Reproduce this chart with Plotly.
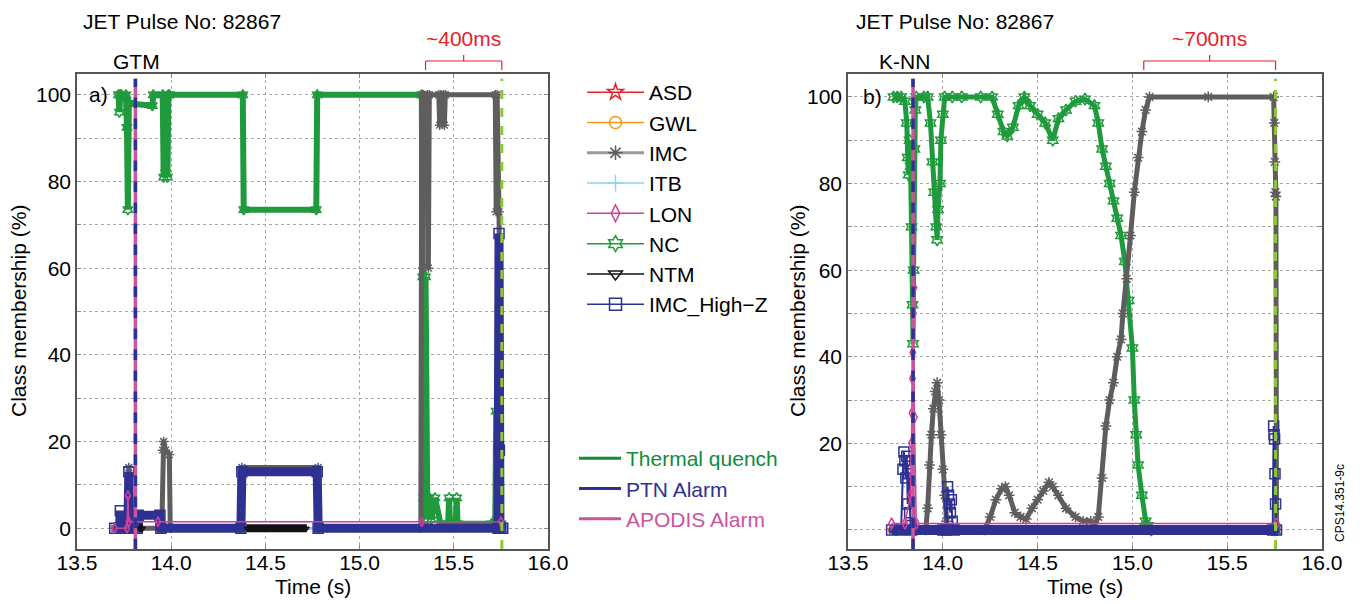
import plotly.graph_objects as go

FONT = "Liberation Sans, Arial, sans-serif"
W, H = 1363, 604
FS = 21

# ---------------- data: panel a) GTM ----------------
gtm_nc_t = [13.72, 13.725, 13.73, 13.735, 13.76, 13.765, 13.77, 13.775, 13.78, 13.90, 13.905, 13.955,
            13.96, 13.97, 13.98, 13.985, 13.99, 14.38, 14.385, 14.77, 14.775, 15.33, 15.335, 15.34,
            15.345, 15.35, 15.355, 15.36, 15.37, 15.38, 15.40, 15.43, 15.47, 15.475, 15.48, 15.51,
            15.515, 15.52, 15.70, 15.72, 15.725, 15.73, 15.74, 15.75]
gtm_nc_v = [100, 96, 100, 100, 100, 92.5, 73.5, 98, 98, 97.5, 100, 100,
            81, 82, 81, 100, 100, 100, 73.5, 73.5, 100, 100, 58, 7,
            2, 58, 7, 2, 7, 2, 7, 1, 1, 7, 1, 1,
            7, 1, 1, 1, 27, 2, 1, 1]

gtm_imc_t = [13.70, 13.77, 13.775, 13.78, 13.95, 13.955, 13.96, 13.97, 13.99, 13.995, 14.0, 14.37,
             14.375, 14.78, 14.785, 15.325, 15.33, 15.335, 15.34, 15.36, 15.365, 15.37, 15.42,
             15.425, 15.43, 15.445, 15.45, 15.455, 15.72, 15.725, 15.73, 15.74, 15.75]
gtm_imc_v = [0, 0, 14, 0, 0, 18, 20, 18, 17, 0, 0, 0,
             14, 14, 0, 0, 100, 60, 100, 100, 60, 100, 100,
             93, 100, 100, 93, 100, 100, 73, 100, 73, 0]

gtm_highz_t = [13.70, 13.725, 13.73, 13.735, 13.77, 13.775, 13.78, 13.82, 13.825, 13.94, 13.945,
               14.37, 14.375, 14.775, 14.78, 15.735, 15.74, 15.742, 15.745, 15.75, 15.76]
gtm_highz_v = [0, 0, 4, 0, 0, 13, 0, 0, 3, 3, 0,
               0, 13, 13, 0, 0, 68, 18, 0, 0, 0]

gtm_ntm_t = [13.83, 13.85, None, 14.40, 14.72]
gtm_ntm_v = [0, 0, None, 0, 0]

gtm_lon_t = [13.70, 13.765, 13.77, 13.775, 13.93, 15.33, 15.75]
gtm_lon_v = [0, 0, 7.5, 1.5, 1.5, 1.5, 1.5]

gtm_zero_t = [13.70, 15.75]
gtm_zero_v = [0, 0]

gtm_ptn_time = 13.81
gtm_apodis_time = 13.81
gtm_warning_time = 15.35

# ---------------- data: panel b) K-NN ----------------
knn_nc_t = [13.74, 13.76, 13.78, 13.80, 13.81, 13.815, 13.82, 13.825, 13.83, 13.835, 13.84, 13.843,
            13.846, 13.85, 13.855, 13.86, 13.90, 13.92, 13.935, 13.945, 13.955, 13.965, 13.97, 13.975,
            13.985, 13.99, 14.00, 14.01, 14.05, 14.10, 14.20, 14.26, 14.29, 14.32, 14.34, 14.37,
            14.40, 14.43, 14.46, 14.50, 14.54, 14.58, 14.61, 14.65, 14.70, 14.75, 14.80, 14.82,
            14.84, 14.86, 14.88, 14.90, 14.92, 14.94, 14.96, 14.98, 15.00, 15.01, 15.02, 15.03,
            15.05, 15.07, 15.08, 15.10, 15.75]
knn_nc_v = [100, 100, 100, 99, 94, 86, 82, 90, 84, 70, 52, 43,
            60, 88, 97, 100, 100, 100, 94, 85, 78, 70, 67, 74,
            80, 90, 96, 100, 100, 100, 100, 100, 96, 92, 91, 93,
            98, 100, 98, 96, 94, 90, 95, 97, 99, 99.5, 98, 94,
            88, 84, 80, 76, 72, 68, 62, 53, 42, 30, 22, 15,
            8, 2, 1, 0, 0]

knn_imc_t = [13.74, 13.91, 13.92, 13.93, 13.94, 13.95, 13.96, 13.97, 13.98, 13.99, 14.00, 14.01,
             14.02, 14.03, 14.22, 14.25, 14.28, 14.31, 14.33, 14.35, 14.38, 14.41, 14.44, 14.47,
             14.50, 14.53, 14.56, 14.58, 14.61, 14.65, 14.70, 14.74, 14.78, 14.80, 14.82, 14.84,
             14.86, 14.88, 14.90, 14.92, 14.94, 14.95, 14.97, 14.99, 15.01, 15.03, 15.05, 15.07,
             15.09, 15.40, 15.745, 15.748, 15.751, 15.754, 15.757, 15.76]
knn_imc_v = [0, 0, 5, 15, 22, 28, 32, 34, 30, 22, 14, 8,
             2, 0, 0, 3, 7, 9.5, 10, 8, 4, 3, 2.5, 5,
             7, 9, 11, 10, 8, 5, 3, 2, 2, 1, 3, 12,
             24, 30, 34, 40, 44, 50, 58, 68, 78, 86, 92, 97,
             100, 100, 100, 94, 85, 78, 77, 0]

knn_highz_t = [13.73, 13.78, 13.79, 13.795, 13.80, 13.805, 13.81, 13.815, 13.82, 13.825, 13.83, 13.835,
               14.00, 14.02, 14.025, 14.03, 14.035, 14.04, 14.045, 14.05, 14.06, 15.74, 15.745,
               15.747, 15.75, 15.752, 15.755, 15.76]
knn_highz_v = [0, 0, 14, 18, 16, 12, 17, 6, 13, 4, 1, 0,
               0, 0, 10, 8, 6, 4, 7, 2, 0, 0, 24,
               22, 21, 13, 6, 0]

knn_lon_t = [13.73, 13.80, 13.83, 13.835, 13.838, 13.84, 13.842, 13.845, 13.848, 13.85, 13.86, 15.76]
knn_lon_v = [1.5, 1.5, 8, 20, 27, 35, 41, 50, 56, 26, 1.5, 1.5]

knn_zero_t = [13.73, 15.76]
knn_zero_v = [0, 0]

knn_ptn_time = 13.843
knn_apodis_time = 13.843
knn_warning_time = 15.06

quench_time = 15.755

# ---------------- tick labels ----------------
x_ticks = [13.5, 14.0, 14.5, 15.0, 15.5, 16.0]
x_ticktext = ["13.5", "14.0", "14.5", "15.0", "15.5", "16.0"]
y_ticks = [0, 10, 20, 30, 40, 50, 60, 70, 80, 90, 100]
y_ticktext_a = ["0", "", "20", "", "40", "", "60", "", "80", "", "100"]
y_ticktext_b = ["", "", "20", "", "40", "", "60", "", "80", "", "100"]

# ---------------- styles ----------------
C_ASD = "#e8202a"
C_GWL = "#f7941d"
C_IMC = "#5e5e5e"
C_IMC_LEG = "#9a9a9a"
C_ITB = "#8fd3f0"
C_LON = "#d23f9a"
C_NC = "#1f9a3c"
C_NTM = "#111111"
C_HZ = "#2e3192"
C_TQ_LEG = "#0f8c3c"
C_TQ = "#8dc63f"
C_APO = "#c9559c"
C_RED = "#e8202a"

fig = go.Figure()


def add(t, v, color, symbol, xa, ya, lw, ms, opacity=1.0):
    fig.add_trace(go.Scatter(
        x=t, y=v, mode="lines+markers", xaxis=xa, yaxis=ya, showlegend=False,
        line=dict(color=color, width=lw), opacity=opacity,
        marker=dict(symbol=symbol, size=ms, color=color, line=dict(color=color, width=1.5)),
        hoverinfo="skip"))


# panel a
add(gtm_zero_t, gtm_zero_v, C_ASD, "star-open", "x", "y", 2, 6)
add(gtm_zero_t, gtm_zero_v, C_GWL, "circle-open", "x", "y", 2, 6)
add(gtm_zero_t, gtm_zero_v, C_ITB, "cross-thin-open", "x", "y", 2, 6)
add(gtm_nc_t, gtm_nc_v, C_NC, "hexagram-open", "x", "y", 6, 8)
add(gtm_imc_t, gtm_imc_v, C_IMC, "asterisk-open", "x", "y", 5, 8)
add(gtm_highz_t, gtm_highz_v, C_HZ, "square-open", "x", "y", 9, 10)
add(gtm_ntm_t, gtm_ntm_v, C_NTM, "triangle-down-open", "x", "y", 8, 4)
add(gtm_lon_t, gtm_lon_v, C_LON, "diamond-tall-open", "x", "y", 1.5, 7)

# panel b
add(knn_zero_t, knn_zero_v, C_ASD, "star-open", "x2", "y2", 2, 6)
add(knn_zero_t, knn_zero_v, C_GWL, "circle-open", "x2", "y2", 2, 6)
add(knn_zero_t, knn_zero_v, C_ITB, "cross-thin-open", "x2", "y2", 2, 6)
add(knn_nc_t, knn_nc_v, C_NC, "hexagram-open", "x2", "y2", 5, 9)
add(knn_imc_t, knn_imc_v, C_IMC, "asterisk-open", "x2", "y2", 5, 9)
add(knn_zero_t, knn_zero_v, C_HZ, "square-open", "x2", "y2", 10, 4)
add(knn_highz_t, knn_highz_v, C_HZ, "square-open", "x2", "y2", 2, 10)
add(knn_lon_t, knn_lon_v, C_LON, "diamond-tall-open", "x2", "y2", 1.5, 8)

# ---------------- legends ----------------
legend_items = [
    ("ASD", C_ASD, "star-open", 1.5),
    ("GWL", C_GWL, "circle-open", 1.5),
    ("IMC", C_IMC_LEG, "asterisk-open", 3),
    ("ITB", C_ITB, "cross-thin-open", 1.5),
    ("LON", C_LON, "diamond-tall-open", 1.5),
    ("NC", C_NC, "hexagram-open", 1.5),
    ("NTM", C_NTM, "triangle-down-open", 1.5),
    ("IMC_High\u2212Z", C_HZ, "square-open", 1.5),
]
for i, (name, col, sym, lw) in enumerate(legend_items):
    mcol = C_IMC if name == "IMC" else col
    fig.add_trace(go.Scatter(
        x=[None], y=[None], mode="lines+markers", name=name, legend="legend",
        legendgroup="g%d" % i, line=dict(color=col, width=lw),
        marker=dict(symbol=sym, size=12, color=mcol, line=dict(color=mcol, width=1.5))))

alarm_items = [("Thermal quench", C_TQ_LEG), ("PTN Alarm", C_HZ), ("APODIS Alarm", C_APO)]
for i, (name, col) in enumerate(alarm_items):
    fig.add_trace(go.Scatter(
        x=[None], y=[None], mode="lines", legend="legend2", legendgroup="a%d" % i,
        name="<span style='color:%s'>%s</span>" % (col, name),
        line=dict(color=col, width=3)))

# ---------------- shapes: alarm lines and brackets ----------------
shapes = []
for xr, ydom, ptn, apo in [("x", "y domain", gtm_ptn_time, gtm_apodis_time),
                           ("x2", "y2 domain", knn_ptn_time, knn_apodis_time)]:
    shapes.append(dict(type="line", xref=xr, yref=ydom, x0=apo, x1=apo, y0=0, y1=0.99,
                       line=dict(color=C_APO, width=3.5)))
    shapes.append(dict(type="line", xref=xr, yref=ydom, x0=ptn, x1=ptn, y0=0, y1=0.99,
                       line=dict(color=C_HZ, width=3.5, dash="dash")))
    shapes.append(dict(type="line", xref=xr, yref=ydom, x0=quench_time, x1=quench_time, y0=0, y1=0.99,
                       line=dict(color=C_TQ, width=3, dash="dash")))

yb_h = 1 - 61 / H
yb_e = 1 - 70 / H
yb_m = 1 - 55 / H
for xr, t0 in [("x", gtm_warning_time), ("x2", knn_warning_time)]:
    tm = (t0 + quench_time) / 2
    shapes += [
        dict(type="line", xref=xr, yref="paper", x0=t0, x1=quench_time, y0=yb_h, y1=yb_h,
             line=dict(color=C_RED, width=1.2)),
        dict(type="line", xref=xr, yref="paper", x0=t0, x1=t0, y0=yb_h, y1=yb_e,
             line=dict(color=C_RED, width=1.2)),
        dict(type="line", xref=xr, yref="paper", x0=quench_time, x1=quench_time, y0=yb_h, y1=yb_e,
             line=dict(color=C_RED, width=1.2)),
        dict(type="line", xref=xr, yref="paper", x0=tm, x1=tm, y0=yb_h, y1=yb_m,
             line=dict(color=C_RED, width=1.2)),
    ]

# ---------------- annotations ----------------
ann = []
def txt(text, x, y, size=FS, color="black", xanchor="left", xref="paper", yref="paper", angle=0):
    ann.append(dict(text=text, x=x, y=y, xref=xref, yref=yref, xanchor=xanchor, yanchor="middle",
                    showarrow=False, textangle=angle, borderpad=0,
                    font=dict(family=FONT, size=size, color=color)))

txt("JET Pulse No: 82867", 82 / W, 1 - 21 / H)
txt("JET Pulse No: 82867", 855 / W, 1 - 21 / H)
txt("GTM", 136 / W, 1 - 61 / H, xanchor="center")
txt("K-NN", 904 / W, 1 - 61 / H, xanchor="center")
txt("~400ms", (gtm_warning_time + quench_time) / 2, 1 - 39 / H, color=C_RED, xanchor="center", xref="x")
txt("~700ms", (knn_warning_time + quench_time) / 2, 1 - 39 / H, color=C_RED, xanchor="center", xref="x2")
txt("a)", 13.56, 100, xref="x", yref="y")
txt("b)", 13.575, 100, xref="x2", yref="y2")
txt("Class membership (%)", 18 / W, 1 - 311 / H, xanchor="center", angle=-90)
txt("Class membership (%)", 797 / W, 1 - 311 / H, xanchor="center", angle=-90)
txt("Time (s)", (77 + 548) / 2 / W, 1 - 586 / H, xanchor="center")
txt("Time (s)", (848 + 1322) / 2 / W, 1 - 586 / H, xanchor="center")
txt("CPS14.351-9c", 1340 / W, 1 - 503 / H, size=12, xanchor="center", angle=-90)

axis_common = dict(
    showgrid=True, gridcolor="#a8a8a8", griddash="dot", gridwidth=1,
    showline=True, linecolor="#555555", linewidth=1.5, mirror="allticks",
    ticks="inside", ticklen=4, tickcolor="#888888", automargin=False,
    zeroline=False, tickfont=dict(family=FONT, size=FS, color="black"),
)

ydom = [1 - 549 / H, 1 - 74 / H]
fig.update_layout(
    template="none",
    width=W, height=H, margin=dict(l=0, r=0, t=0, b=0, autoexpand=False),
    paper_bgcolor="white", plot_bgcolor="white",
    font=dict(family=FONT, size=FS, color="black"),
    xaxis=dict(domain=[77 / W, 548 / W], range=[13.5, 16.0], tickvals=x_ticks, ticktext=x_ticktext,
               anchor="y", ticklabelstandoff=-6, **axis_common),
    yaxis=dict(domain=ydom, range=[-4.8, 104.8], tickvals=y_ticks, ticktext=y_ticktext_a,
               anchor="x", **axis_common),
    xaxis2=dict(domain=[848 / W, 1322 / W], range=[13.5, 16.0], tickvals=x_ticks, ticktext=x_ticktext,
                anchor="y2", ticklabelstandoff=-6, **axis_common),
    yaxis2=dict(domain=ydom, range=[-4.4, 105.3], tickvals=y_ticks, ticktext=y_ticktext_b,
                anchor="x2", **axis_common),
    legend=dict(x=582 / W, y=1 - 72 / H, xanchor="left", yanchor="top", bgcolor="rgba(0,0,0,0)",
                font=dict(family=FONT, size=FS, color="black"), tracegroupgap=0, itemwidth=57),
    legend2=dict(x=574 / W, y=1 - 438 / H, xanchor="left", yanchor="top", bgcolor="rgba(0,0,0,0)",
                 font=dict(family=FONT, size=FS), tracegroupgap=0, itemwidth=42),
    shapes=shapes, annotations=ann,
)

fig.write_html("out.html")
